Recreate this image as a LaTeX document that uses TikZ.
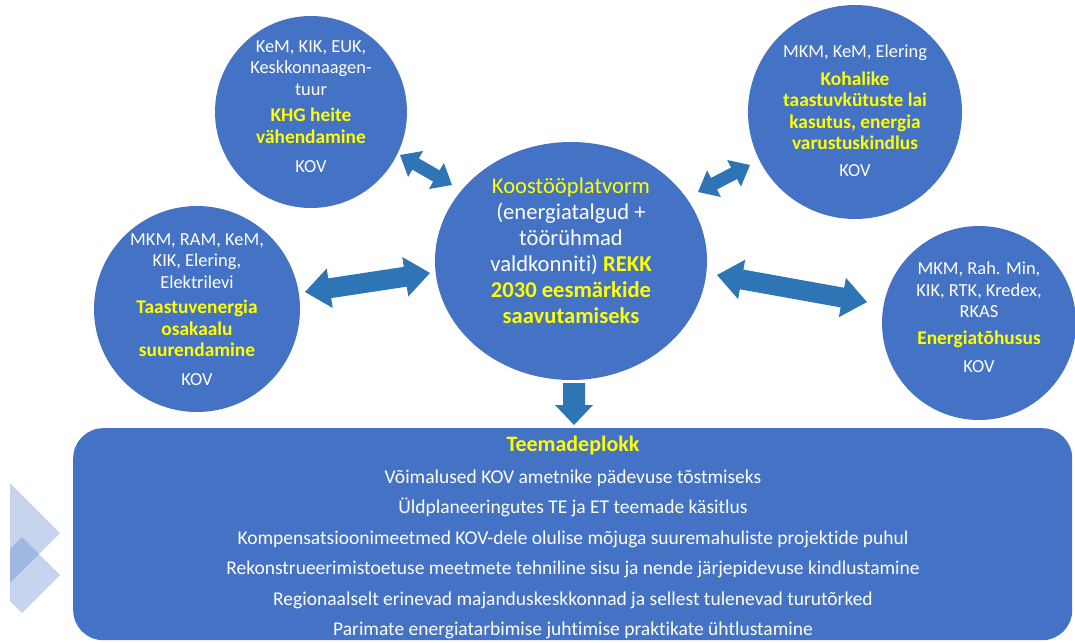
\documentclass[tikz,border=0pt]{standalone}
\usepackage{fontspec}
\setmainfont[Ligatures={NoCommon}]{Carlito}
\usetikzlibrary{calc,shapes.geometric}
\definecolor{cblue}{HTML}{4472C4}
\definecolor{ablue}{HTML}{2E75B6}
\definecolor{ytext}{HTML}{FFFF00}
\definecolor{chev}{HTML}{4472C4}
\tikzset{
  bubble/.style={circle, fill=cblue, draw=none, inner sep=0pt, minimum size=#1},
  bubtext/.style={text=white, align=center, inner sep=0pt, anchor=north, font=\fontsize{18.4}{21.5}\selectfont},
  arrowc/.style={fill=ablue, draw=none},
  chevron/.style={fill=chev, fill opacity=0.3, draw=none},
}
\newcommand{\hlt}[1]{\textcolor{ytext}{\bfseries #1}}
\newcommand{\yl}[1]{\textcolor{ytext}{\bfseries\fontsize{19.4}{22.5}\selectfont #1}}
\newcommand{\dbarrow}[5]{%
  \coordinate (da1) at ($(#1)!#5!(#2)$);
  \coordinate (da2) at ($(#2)!#5!(#1)$);
  \fill[arrowc] (#1) -- ($(da1)!#4!90:(#2)$) -- ($(da1)!#3!90:(#2)$)
    -- ($(da2)!#3!-90:(#1)$) -- ($(da2)!#4!-90:(#1)$) -- (#2)
    -- ($(da2)!#4!90:(#1)$) -- ($(da2)!#3!90:(#1)$)
    -- ($(da1)!#3!-90:(#2)$) -- ($(da1)!#4!-90:(#2)$) -- cycle;
}
\begin{document}
\begin{tikzpicture}[x=1pt,y=-1pt]
\useasboundingbox (0,0) rectangle (1075,642);

% decorative chevrons
\fill[chevron] (10,483) -- (60,533) -- (10,583) -- cycle;
\fill[chevron] (10,549) -- (22,537) -- (60,575) -- (22,613) -- (10,601) -- cycle;

% circles
\node[bubble=192] (c1) at (311,112) {};
\node[bubble=214] (c2) at (855,112) {};
\node[bubble=206] (c3) at (197,309) {};
\node[bubble=194] (c4) at (979,323) {};
\node[ellipse, fill=cblue, inner sep=0pt, minimum width=272, minimum height=238] (c0) at (571,261) {};

% bottom block
\node[rectangle, rounded corners=30pt, fill=cblue, inner sep=0pt, minimum width=999, minimum height=212, anchor=north west] (blk) at (73,428) {};

% texts
\node[bubtext] (t1) at (311,40) {KeM, KIK, EUK,\\Keskkonnaagen-\\tuur\\[5pt]
  \yl{KHG heite}\\\yl{vähendamine}\\[7.5pt]KOV};
\node[bubtext] (t2) at (855,45) {MKM, KeM, Elering\\[6pt]
  \yl{Kohalike}\\\yl{taastuvkütuste lai}\\
  \yl{kasutus, energia}\\\yl{varustuskindlus}\\[5.5pt]KOV};
\node[bubtext] (t3) at (197,233) {MKM, RAM, KeM,\\KIK, Elering,\\Elektrilevi\\[4pt]
  \yl{Taastuvenergia}\\\yl{osakaalu}\\\yl{suurendamine}\\[7.5pt]KOV};
\node[bubtext] (t4) at (979,262) {MKM, Rah. Min,\\KIK, RTK, Kredex,\\RKAS\\[5pt]
  \yl{Energiatõhusus}\\[6.5pt]KOV};
\node[bubtext, font=\fontsize{22.6}{26}\selectfont] (t0) at (571,178) {\textcolor{ytext}{Koostööplatvorm}\\(energiatalgud +\\töörühmad\\
  valdkonniti) \hlt{REKK}\\\hlt{2030 eesmärkide}\\\hlt{saavutamiseks}};

\node[text=white, align=center, inner sep=0pt, anchor=north, font=\fontsize{19.5}{30.5}\selectfont] (tb) at (573,436) {%
  \textcolor{ytext}{\bfseries\fontsize{22}{24}\selectfont Teemadeplokk}\\[1pt]
  Võimalused KOV ametnike pädevuse tõstmiseks\\
  Üldplaneeringutes TE ja ET teemade käsitlus\\
  Kompensatsioonimeetmed KOV-dele olulise mõjuga suuremahuliste projektide puhul\\
  Rekonstrueerimistoetuse meetmete tehniline sisu ja nende järjepidevuse kindlustamine\\
  Regionaalselt erinevad majanduskeskkonnad ja sellest tulenevad turutõrked\\
  Parimate energiatarbimise juhtimise praktikate ühtlustamine};

% arrows
\coordinate (a1s) at (400,155); \coordinate (a1e) at (452,185);
\coordinate (a2s) at (698,192); \coordinate (a2e) at (750,165);
\coordinate (a3s) at (305,292); \coordinate (a3e) at (430,273);
\coordinate (a4s) at (717,275); \coordinate (a4e) at (867,302);
\dbarrow{a1s}{a1e}{6.5pt}{15pt}{18pt}
\dbarrow{a2s}{a2e}{6.5pt}{15pt}{18pt}
\dbarrow{a3s}{a3e}{10pt}{20pt}{25pt}
\dbarrow{a4s}{a4e}{10pt}{20pt}{25pt}

% down arrow
\coordinate (d1) at (574,383); \coordinate (d2) at (574,425);
\fill[arrowc] ($(d1)+(-11,0)$) -- ($(d1)+(11,0)$) -- ($(d2)+(11,-20)$) -- ($(d2)+(19,-20)$)
  -- (d2) -- ($(d2)+(-19,-20)$) -- ($(d2)+(-11,-20)$) -- cycle;
\end{tikzpicture}
\end{document}
